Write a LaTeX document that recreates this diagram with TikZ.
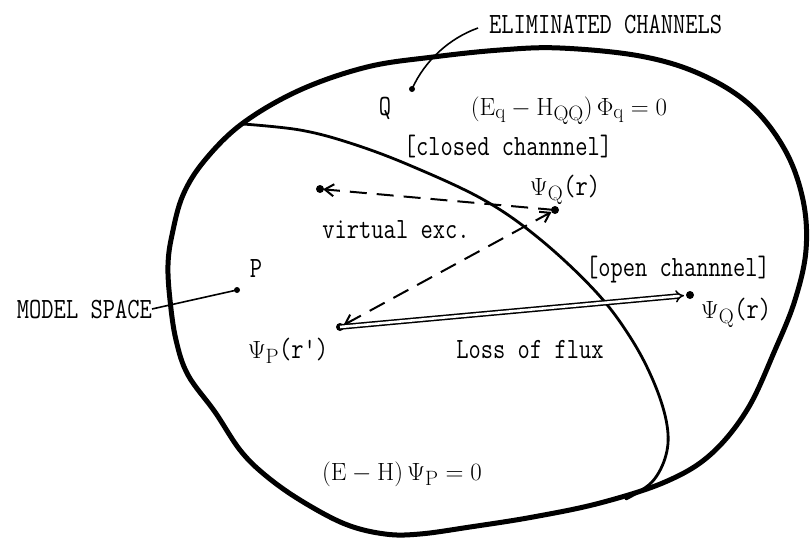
\documentclass[tikz,border=0pt]{standalone}
\usepackage{amsmath, amssymb}
\usepackage{graphicx}
\usepackage{tikz}
\usetikzlibrary{arrows.meta}
\newcommand{\nrw}[1]{\scalebox{0.85}[1.05]{#1}}

\begin{document}
\begin{tikzpicture}[x=1pt,y=-1pt,
		border/.style={line width=5pt, line join=round},
		partition/.style={line width=2.8pt, line cap=round},
		excite/.style={line width=2pt, dash pattern=on 17pt off 10pt},
		flow/.style={double, double distance=2.6pt, line width=1.5pt},
		leader/.style={line width=1.6pt},
		lbl/.style={font=\fontsize{28}{30}\selectfont\ttfamily, inner sep=0pt, anchor=base}]
				\useasboundingbox (0,0) rectangle (812,539);
				% the two regions
				\draw[border] plot[smooth cycle, tension=0.6] coordinates {
					(500,50) (560,48) (640,56) (700,74) (750,105) (785,150) (803,200)
					(806,250) (795,300) (775,350) (747,410) (710,455) (665,482) (600,503)
					(533,517) (470,527) (420,534) (385,534) (345,524) (300,500) (265,475)
					(240,450) (215,412) (188,375) (176,340) (170,300) (168,265) (172,235)
					(183,195) (205,160) (243,123) (300,90) (367,67) (433,57)};
				\draw[partition] plot[smooth, tension=0.6] coordinates {
					(243,124) (300,130) (350,143) (409,165) (484,200) (541,240) (597,293)
					(632,340) (655,385) (667,425) (666,455) (652,482) (626,499)};
				% points
				\coordinate (QL) at (412,89);
				\coordinate (ET) at (478,28);
				\coordinate (PL) at (237,290);
				\coordinate (V) at (320,189);
				\coordinate (QC) at (555,210);
				\coordinate (PS) at (340,327);
				\coordinate (QO) at (690,295);
				\fill (QL) circle (3pt);
				\fill (PL) circle (3pt);
				\fill (V) circle (4pt);
				\fill (QC) circle (4pt);
				\fill (PS) circle (4pt);
				\fill (QO) circle (4pt);
				% labels
				\node[lbl, anchor=base west] (elim) at (489,33) {\nrw{ELIMINATED CHANNELS}};
				\node[lbl, anchor=base east] (model) at (152,318) {\nrw{MODEL SPACE}};
				\node[lbl] (lblQ) at (385,115) {\nrw{Q}};
				\node[lbl] (eqQ) at (569,115) {$(\mathrm{E_q}-\mathrm{H_{QQ}})\,\Phi_{\mathrm{q}}=0$};
				\node[lbl] (closed) at (508,155) {\nrw{[closed channnel]}};
				\node[lbl] (psiQa) at (565,195) {$\Psi_{\mathrm{Q}}$\nrw{(r)}};
				\node[lbl] (virt) at (396,238) {\nrw{virtual exc.}};
				\node[lbl] (lblP) at (256,277) {\nrw{P}};
				\node[lbl] (open) at (678,276) {\nrw{[open channnel]}};
				\node[lbl] (psiQb) at (736,318) {$\Psi_{\mathrm{Q}}$\nrw{(r)}};
				\node[lbl] (psiP) at (288,358) {$\Psi_{\mathrm{P}}$\nrw{(r')}};
				\node[lbl] (flux) at (530,358) {\nrw{Loss of flux}};
				\node[lbl] (eqP) at (402,480) {$(\mathrm{E}-\mathrm{H})\,\Psi_{\mathrm{P}}=0$};
				% connectors
				\draw[leader] (QL) .. controls (425,60) and (450,38) .. (ET);
				\draw[leader] (model.east) -- (PL);
				\draw[excite, -{Straight Barb[length=9pt, width=12pt]}, shorten >=3pt] (QC) -- (V);
				\draw[excite, {Straight Barb[length=9pt, width=12pt]}-{Straight Barb[length=9pt, width=12pt]}, shorten >=4pt, shorten <=4pt] (PS) -- (QC);
				\draw[flow, -{Implies}, shorten >=6pt] (PS) -- (QO);
			\end{tikzpicture}
\end{document}
